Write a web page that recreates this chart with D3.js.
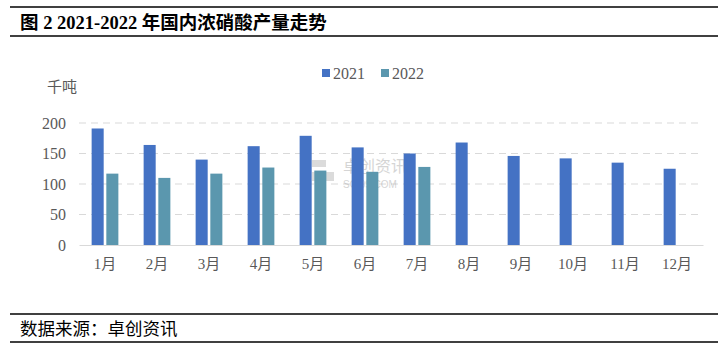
<!DOCTYPE html>
<html><head><meta charset="utf-8">
<script src="https://cdn.jsdelivr.net/npm/d3@7"></script>
<style>
html,body{margin:0;padding:0;background:#fff;}
svg{display:block;}
</style></head>
<body>
<svg id="chart" width="721" height="350"></svg>
<script>
const months = ["1月","2月","3月","4月","5月","6月","7月","8月","9月","10月","11月","12月"];
const series = ["2021","2022"];
const values2021 = [191,164,140,162,179,160,150,168,146,142,135,125];
const values2022 = [117,110,117,127,122,120,128,null,null,null,null,null];
const yTicks = [0,50,100,150,200];
const colors = {"2021":"#4472C4","2022":"#5B97AE"};
const titleText = "图 2 2021-2022 年国内浓硝酸产量走势";
const sourceText = "数据来源：卓创资讯";
const unitText = "千吨";

const svg = d3.select("#chart");
const cjk = "'Liberation Serif','Noto Sans CJK SC',serif";
const m = {left:79, right:703, top:123, bottom:245};

// title block
svg.append("line").attr("x1",10).attr("x2",718).attr("y1",7).attr("y2",7).attr("stroke","#000").attr("stroke-width",1.5);
svg.append("line").attr("x1",10).attr("x2",718).attr("y1",36).attr("y2",36).attr("stroke","#000").attr("stroke-width",1.5);
svg.append("text").attr("x",20).attr("y",29).text(titleText)
  .attr("font-family",cjk).attr("font-size",18.5).attr("font-weight","bold").attr("fill","#000");

// footer
svg.append("line").attr("x1",10).attr("x2",718).attr("y1",314).attr("y2",314).attr("stroke","#000").attr("stroke-width",1.5);
svg.append("line").attr("x1",10).attr("x2",718).attr("y1",342).attr("y2",342).attr("stroke","#000").attr("stroke-width",1.5);
svg.append("text").attr("x",20).attr("y",335).text(sourceText)
  .attr("font-family","'Noto Sans CJK SC',sans-serif").attr("font-size",17.5).attr("fill","#000");

const x = d3.scaleBand().domain(months).range([m.left,m.right]).paddingInner(0).paddingOuter(0);
const x1 = d3.scaleBand().domain(series).range([0,x.bandwidth()]).paddingInner(0.18).paddingOuter(0.86);
const y = d3.scaleLinear().domain([0,200]).range([m.bottom,m.top]);

// grid
svg.append("g").selectAll("line").data(yTicks.filter(d=>d>0)).join("line")
  .attr("x1",m.left).attr("x2",m.right).attr("y1",d=>y(d)).attr("y2",d=>y(d))
  .attr("stroke","#d9d9d9").attr("stroke-width",1).attr("stroke-dasharray","7,5");

// y axis labels
const yAxis = svg.append("g").attr("transform",`translate(${m.left},0)`)
  .call(d3.axisLeft(y).tickValues(yTicks).tickSize(0).tickPadding(13));
yAxis.select(".domain").remove();
yAxis.selectAll("text").attr("font-family",cjk).attr("font-size",16).attr("fill","#595959");

// watermark
const wm = svg.append("g").attr("opacity",0.35);
wm.append("rect").attr("x",312).attr("y",160).attr("width",14).attr("height",7).attr("fill","#999");
wm.append("rect").attr("x",312).attr("y",172).attr("width",22).attr("height",9).attr("fill","#999");
wm.append("text").attr("x",343).attr("y",172).text("卓创资讯").attr("font-family","'Noto Sans CJK SC',sans-serif").attr("font-size",16).attr("fill","#888");
wm.append("text").attr("x",343).attr("y",188).text("SCI99.COM").attr("font-family","Liberation Sans,sans-serif").attr("font-size",10).attr("fill","#888");

// bars
const data = months.map((mo,i)=>({month:mo, vals:[{s:"2021",v:values2021[i]},{s:"2022",v:values2022[i]}]}));
const groups = svg.append("g").selectAll("g").data(data).join("g")
  .attr("transform",d=>`translate(${x(d.month)},0)`);
groups.selectAll("rect").data(d=>d.vals.filter(e=>e.v!=null)).join("rect")
  .attr("x",d=>x1(d.s)).attr("width",x1.bandwidth())
  .attr("y",d=>y(d.v)).attr("height",d=>y(0)-y(d.v))
  .attr("fill",d=>colors[d.s]);

// x axis
const xAxis = svg.append("g").attr("transform",`translate(0,${m.bottom})`)
  .call(d3.axisBottom(x).tickSize(0).tickPadding(13));
xAxis.select(".domain").attr("stroke","#d9d9d9").attr("stroke-width",1.2);
xAxis.selectAll("text").attr("font-family",cjk).attr("font-size",15).attr("fill","#595959");

// unit
svg.append("text").attr("x",47).attr("y",92).text(unitText)
  .attr("font-family","'Noto Sans CJK SC',sans-serif").attr("font-size",15).attr("fill","#595959");

// legend
const lg = svg.append("g");
const legendX = {"2021":322,"2022":381};
series.forEach(s=>{
  lg.append("rect").attr("x",legendX[s]).attr("y",69).attr("width",8).attr("height",8).attr("fill",colors[s]);
  lg.append("text").attr("x",legendX[s]+11).attr("y",79).text(s)
    .attr("font-family",cjk).attr("font-size",16).attr("fill","#595959");
});
</script>
</body></html>
